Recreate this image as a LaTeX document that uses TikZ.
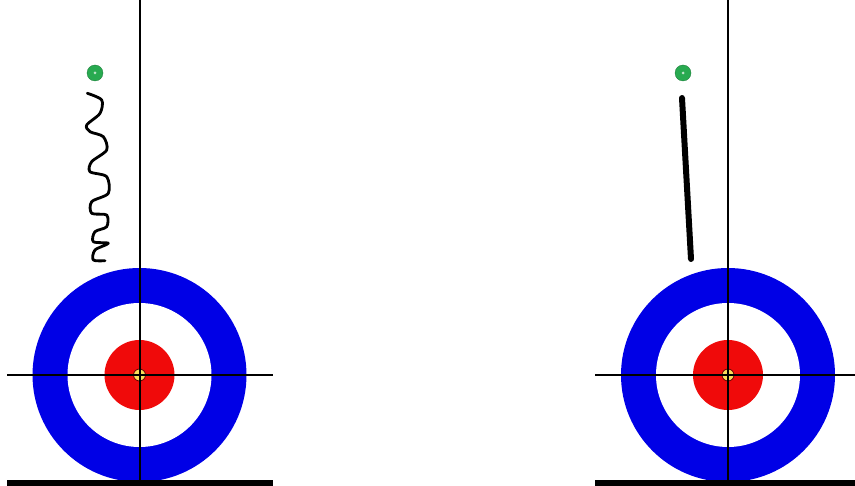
\documentclass[tikz,border=0pt]{standalone}
\definecolor{ringblue}{RGB}{0,0,230}
\definecolor{ringred}{RGB}{240,10,10}
\definecolor{dotgreen}{RGB}{40,170,80}
\definecolor{buttonyellow}{RGB}{250,220,90}
\tikzset{
  hline/.style={line width=2pt, black},
  groundline/.style={line width=6pt, black},
  greendot/.style={circle, fill=dotgreen, draw=dotgreen!70!black, line width=0.3pt, inner sep=0pt, minimum size=16pt, path picture={\fill[white!70!dotgreen] (path picture bounding box.center) circle (1.5pt);}},
}
\newcommand{\house}[2]{%
  \fill[ringblue] (#1,#2) circle (107);
  \fill[white] (#1,#2) circle (72);
  \fill[ringred] (#1,#2) circle (35);
  \filldraw[fill=buttonyellow, draw=black!60!red, line width=0.8pt] (#1,#2) circle (6);
}
\begin{document}
\begin{tikzpicture}[x=1pt,y=-1pt]
\useasboundingbox (0,0) rectangle (855,486);
\fill[white] (0,0) rectangle (855,486);
% left house
\house{139.5}{375}
\draw[hline] (139.5,0) -- (139.5,483);
\draw[hline] (7,375) -- (273,375);
\draw[groundline] (7,483) -- (273,483);
% right house
\house{728}{375}
\draw[hline] (728,0) -- (728,483);
\draw[hline] (595,375) -- (855,375);
\draw[groundline] (595,483) -- (855,483);
% stones
\node[greendot] (s1) at (95,73) {};
\node[greendot] (s2) at (683,73) {};
% curly path
\draw[line width=2.8pt, line join=round, line cap=round] plot[smooth, tension=0.5] coordinates {(87.3,93.3) (101.7,100) (100,113.3) (86.7,125) (90,131.7) (103.3,136.7) (106.7,150) (91.7,161.7) (90,171.7) (106.7,176.7) (108.3,193.3) (91.7,201.7) (91.7,213.3) (106.7,215) (106.7,226.7) (95,231.7) (93.3,241.7) (108.3,243.3) (95,250) (93.3,260) (105,260.7)};
% straight path
\draw[line width=6pt, line cap=round] (682,98) -- (691,259);
\end{tikzpicture}
\end{document}
